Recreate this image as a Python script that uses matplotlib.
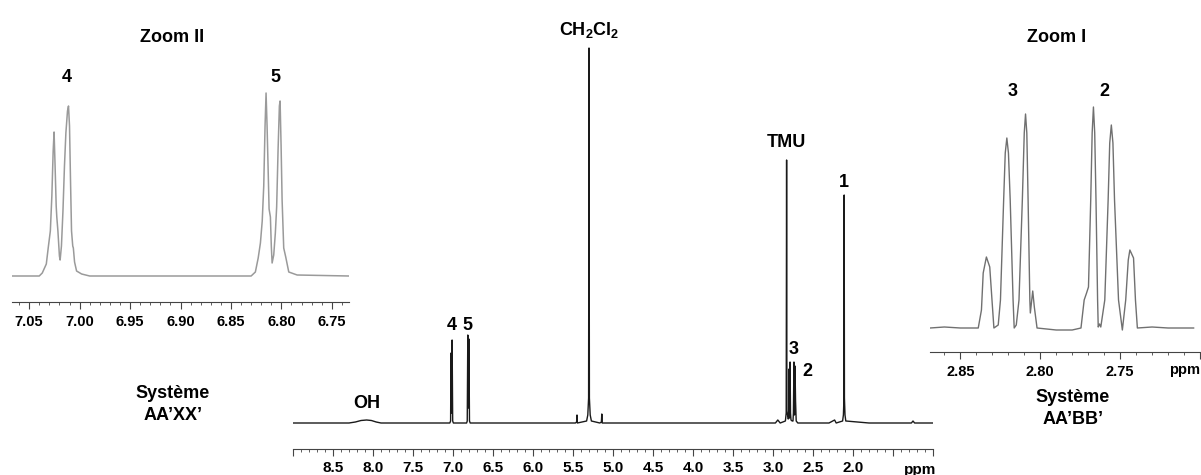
import numpy as np
import matplotlib.pyplot as plt
from matplotlib.ticker import MultipleLocator

plt.rcParams['font.family'] = ['Liberation Sans', 'DejaVu Sans']
plt.rcParams['font.weight'] = 'bold'
plt.rcParams['mathtext.fontset'] = 'custom'
plt.rcParams['mathtext.rm'] = 'Liberation Sans:bold'
plt.rcParams['mathtext.it'] = 'Liberation Sans:bold'
plt.rcParams['mathtext.bf'] = 'Liberation Sans:bold'

# full spectrum (ppm, intensity a.u.)
main_ppm = [9.00, 8.60, 8.30, 8.22, 8.15, 8.08, 8.02, 7.96, 7.90, 7.40, 7.04, 7.030,
            7.025, 7.018, 7.011, 7.004, 6.995, 6.83, 6.822, 6.815, 6.808, 6.801, 6.794,
            6.785, 6.50, 5.47, 5.455, 5.45, 5.445, 5.33, 5.315, 5.305, 5.30, 5.295,
            5.285, 5.27, 5.165, 5.145, 5.14, 5.135, 4.00, 2.97, 2.94, 2.91, 2.845,
            2.835, 2.830, 2.826, 2.81, 2.805, 2.800, 2.793, 2.787, 2.781, 2.775, 2.76,
            2.75, 2.745, 2.738, 2.731, 2.725, 2.718, 2.71, 2.69, 2.30, 2.23, 2.21,
            2.13, 2.12, 2.113, 2.11, 2.107, 2.10, 2.09, 1.80, 1.27, 1.25, 1.23, 1.00]
main_int = [0, 0, 0, 1, 2.5, 3, 2.5, 1, 0, 0, 0, 2,
            70, 10, 83, 2, 0, 0, 2, 88, 15, 84, 2,
            0, 0, 0, 1, 8, 0, 2, 8, 25, 375, 25,
            8, 2, 0, 1, 9, 0, 0, 0, 3, 0, 2,
            10, 263, 12, 4, 5, 54, 5, 61, 10, 3, 2,
            2, 10, 61, 8, 57, 22, 2, 0, 0, 3, 0,
            2, 8, 25, 228, 25, 8, 2, 0, 0, 2, 0, 0]

# Zoom II : AA'XX' region (ppm, intensity)
z2_ppm = [7.067, 7.040, 7.037, 7.033, 7.031, 7.0290, 7.0275, 7.0262, 7.0253, 7.0243,
          7.0232, 7.0226, 7.0215, 7.0200, 7.0193, 7.0180, 7.0165, 7.0150, 7.0136, 7.0120,
          7.0110, 7.0100, 7.0090, 7.0080, 7.0068, 7.0062, 7.0050, 7.0030, 6.998, 6.990,
          6.830, 6.8258, 6.8230, 6.8208, 6.8190, 6.8175, 6.8162, 6.8152, 6.8142, 6.8132,
          6.8122, 6.8109, 6.8100, 6.8092, 6.8076, 6.8060, 6.8047, 6.8033, 6.8020, 6.8013,
          6.8003, 6.7993, 6.7977, 6.7957, 6.7927, 6.7844, 6.733]
z2_int = [0, 0, 3, 12, 29, 45, 80, 125, 144, 110,
          70, 59, 45, 20, 16, 30, 65, 110, 143, 165,
          170, 150, 95, 45, 30, 28, 14, 5, 2, 0,
          0, 4, 18, 33, 55, 90, 150, 183, 150, 109,
          67, 59, 30, 13, 21, 43, 69, 126, 170, 175,
          130, 76, 28, 19, 4, 1, 0]

# Zoom I : AA'BB' region (ppm, intensity)
z1_ppm = [2.869, 2.860, 2.850, 2.8388, 2.8368, 2.8357, 2.8337, 2.8316, 2.8302, 2.829,
          2.8263, 2.8249, 2.8229, 2.8219, 2.8209, 2.8199, 2.8188, 2.817, 2.8163, 2.8150,
          2.8133, 2.8112, 2.8100, 2.8092, 2.8084, 2.8076, 2.8065, 2.8062, 2.8047, 2.8037,
          2.802, 2.790, 2.780, 2.7745, 2.7725, 2.771, 2.7698, 2.7684, 2.7675, 2.7667,
          2.7659, 2.7651, 2.7641, 2.7637, 2.7629, 2.7621, 2.7596, 2.7575, 2.7565, 2.7555,
          2.7545, 2.7535, 2.751, 2.7486, 2.7465, 2.7449, 2.7439, 2.7416, 2.7404, 2.7392,
          2.730, 2.720, 2.704]
z1_int = [0, 1, 0, 0, 18, 55, 71, 61, 28, 0,
          3, 28, 128, 175, 190, 175, 128, 28, 0, 3,
          28, 128, 195, 214, 195, 128, 28, 15, 37, 21,
          0, -2, -2, 0, 28, 35, 41, 128, 195, 221,
          195, 128, 28, 1, 4, 1, 28, 128, 185, 203,
          185, 128, 28, -2, 28, 68, 78, 70, 28, 0,
          1, 0, 0]


def ruler(ax, xmin, xmax, majors, labels, minor, pad, size):
    ax.set_xlim(xmin, xmax)
    for s in ['left', 'top', 'right']:
        ax.spines[s].set_visible(False)
    ax.spines['bottom'].set_color('#444444')
    ax.spines['bottom'].set_linewidth(0.8)
    ax.set_yticks([])
    ax.set_xticks(majors, labels)
    ax.xaxis.set_minor_locator(MultipleLocator(minor))
    ax.tick_params(axis='x', which='major', length=5, width=0.8, color='#444444',
                   labelsize=size, pad=pad)
    ax.tick_params(axis='x', which='minor', length=2.5, width=0.6, color='#444444')
    ax.patch.set_visible(False)


fig = plt.figure(figsize=(12.01, 4.75), dpi=100)

# main spectrum
ax = fig.add_axes([293 / 1201, 26 / 475, 640 / 1201, 429 / 475])
ax.plot(main_ppm, main_int, color='#1a1a1a', lw=1.0)
ax.set_ylim(-26, 403)
majors = [9.0, 8.5, 8.0, 7.5, 7.0, 6.5, 6.0, 5.5, 5.0, 4.5, 4.0, 3.5, 3.0, 2.5, 2.0, 1.5, 1.0]
labels = ['' if m in (9.0, 1.5, 1.0) else '%.1f' % m for m in majors]
ruler(ax, 9.0, 1.0, majors, labels, 0.1, 4, 11)
lab = dict(ha='center', va='center', fontsize=13, fontweight='bold')
ax.text(5.30, 393, 'CH$_2$Cl$_2$', **lab)
ax.text(2.83, 280, 'TMU', **lab)
ax.text(2.11, 240, '1', **lab)
ax.text(2.74, 74, '3', **lab)
ax.text(2.575, 52, '2', **lab)
ax.text(7.02, 98, '4', **lab)
ax.text(6.82, 98, '5', **lab)
ax.text(8.075, 20, 'OH', **lab)
fig.text(920 / 1201, 1 - 470 / 475, 'ppm', ha='center', va='center', fontsize=11,
         fontweight='bold')

# Zoom II
ax2 = fig.add_axes([12 / 1201, 173 / 475, 337 / 1201, 242 / 475])
ax2.plot(z2_ppm, z2_int, color='#9a9a9a', lw=1.1)
ax2.set_ylim(-26, 216)
m2 = [7.05, 7.00, 6.95, 6.90, 6.85, 6.80, 6.75]
ruler(ax2, 7.067, 6.733, m2, ['%.2f' % m for m in m2], 0.01, 4, 10.5)
ax2.text(7.0123, 199, '4', **lab)
ax2.text(6.806, 199, '5', **lab)
fig.text(172 / 1201, 1 - 38 / 475, 'Zoom II', ha='center', va='center', fontsize=13,
         fontweight='bold')
sys = dict(ha='center', va='center', fontsize=13, fontweight='bold')
fig.text(173 / 1201, 1 - 394 / 475, 'Système', **sys)
fig.text(173 / 1201, 1 - 415 / 475, 'AA’XX’', **sys)

# Zoom I
ax1 = fig.add_axes([930 / 1201, 123 / 475, 270 / 1201, 292 / 475])
ax1.plot(z1_ppm, z1_int, color='#707070', lw=1.0)
ax1.set_ylim(-24, 268)
m1 = [2.85, 2.80, 2.75, 2.70]
ruler(ax1, 2.869, 2.704, m1, ['2.85', '2.80', '2.75', ''], 0.01, 4, 10.5)
ax1.text(2.817, 236, '3', **lab)
ax1.text(2.7598, 236, '2', **lab)
fig.text(1185 / 1201, 1 - 370 / 475, 'ppm', ha='center', va='center', fontsize=10.5,
         fontweight='bold')
fig.text(1057 / 1201, 1 - 38 / 475, 'Zoom I', ha='center', va='center', fontsize=13,
         fontweight='bold')
fig.text(1073 / 1201, 1 - 398 / 475, 'Système', **sys)
fig.text(1073 / 1201, 1 - 419 / 475, 'AA’BB’', **sys)

fig.savefig('out.png', dpi=100)
